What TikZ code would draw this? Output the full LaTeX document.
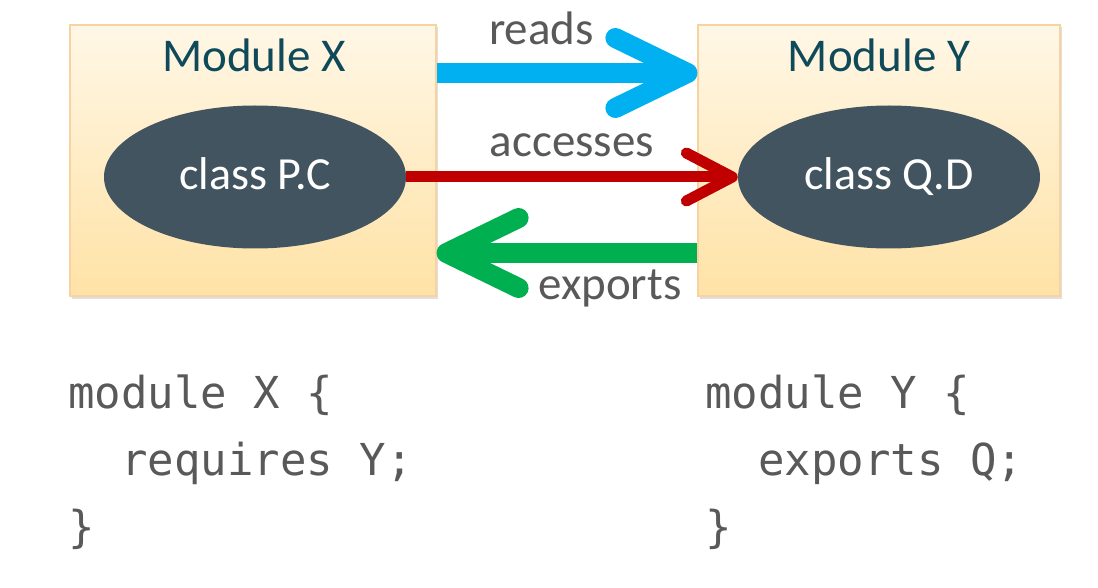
\documentclass[tikz,border=0pt]{standalone}
\usepackage{fontspec}
\setmainfont{Carlito}
\newfontfamily\codefont{DejaVu Sans Mono}
\usetikzlibrary{arrows.meta,shapes.geometric,shadows}
\definecolor{boxtop}{HTML}{FFF7E6}
\definecolor{boxbot}{HTML}{FFE2A6}
\definecolor{boxline}{HTML}{F8D3A0}
\definecolor{ellfill}{HTML}{42545F}
\definecolor{titlecol}{HTML}{0E4A5A}
\definecolor{labelcol}{HTML}{595959}
\definecolor{bluearr}{HTML}{00B0F0}
\definecolor{redarr}{HTML}{C00000}
\definecolor{greenarr}{HTML}{00B050}
\tikzset{
  modbox/.style={rectangle, inner sep=0pt, draw=boxline, line width=1.2pt,
    top color=boxtop, bottom color=boxbot, minimum height=271pt,
    drop shadow={shadow xshift=1.5pt, shadow yshift=-2.5pt, opacity=0.25}},
  classell/.style={ellipse, inner sep=0pt, fill=ellfill, minimum width=302pt,
    minimum height=143pt},
  classtxt/.style={text=white, font=\fontsize{46}{55}\selectfont, anchor=base},
  titletxt/.style={text=titlecol, font=\fontsize{47}{56}\selectfont, anchor=base, inner sep=0pt},
  lbl/.style={text=labelcol, font=\fontsize{47}{56}\selectfont, anchor=base, inner sep=0pt},
  code/.style={text=labelcol, font=\codefont\fontsize{44}{52}\selectfont, anchor=base west, inner sep=0pt},
  widearrow/.style={line width=20pt, -{Straight Barb[length=72pt, width=70pt, round]}},
}
\begin{document}
\begin{tikzpicture}[x=1pt, y=-1pt]
\useasboundingbox (0,0) rectangle (1098,588);
% boxes
\node[modbox, minimum width=366pt] (boxX) at (253,160.5) {};
\node[modbox, minimum width=362pt] (boxY) at (879,160.5) {};
% titles
\node[titletxt] (tX) at (254,72) {Module X};
\node[titletxt] (tY) at (879,72) {Module Y};
% ellipses
\node[classell] (eX) at (255,177) {};
\node[classell] (eY) at (889,177) {};
\node[classtxt, inner sep=0pt] (cX) at (255,190) {class P.C};
\node[classtxt, inner sep=0pt] (cY) at (889,190) {class Q.D};
% arrows
\draw[bluearr, widearrow] (boxX.east |- 0,73) -- (boxY.west |- 0,73);
\draw[redarr, line width=11pt, -{Straight Barb[length=46pt, width=48pt, round]}]
  (eX.east) -- (eY.west);
\draw[greenarr, widearrow] (boxY.west |- 0,253) -- (boxX.east |- 0,253);
% labels
\node[lbl] (lr) at (541.5,45) {reads};
\node[lbl] (la) at (572,157) {accesses};
\node[lbl] (le) at (610,299) {exports};
% code
\node[code] (c1) at (68,408) {module X \{};
\node[code] (c2) at (68,475) {\ \ requires Y;};
\node[code] (c3) at (68,542) {\}};
\node[code] (d1) at (705,408) {module Y \{};
\node[code] (d2) at (705,475) {\ \ exports Q;};
\node[code] (d3) at (705,542) {\}};
\end{tikzpicture}
\end{document}
